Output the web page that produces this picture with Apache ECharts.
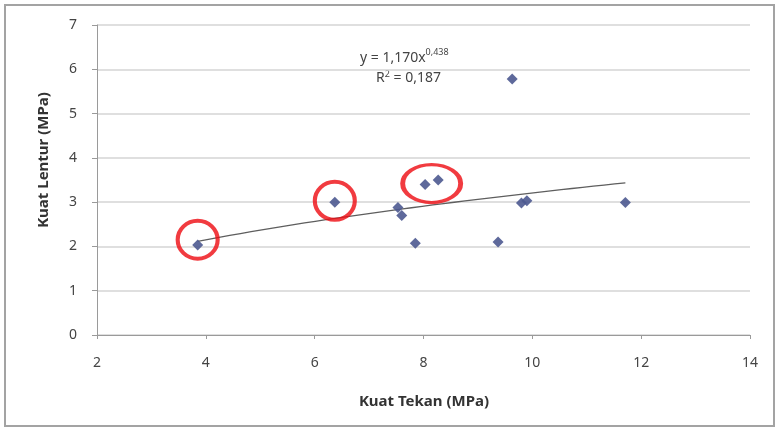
<!DOCTYPE html>
<html>
<head>
<meta charset="utf-8">
<script src="https://cdn.jsdelivr.net/npm/echarts@6/dist/echarts.min.js"></script>
<style>
  html, body { margin: 0; padding: 0; background: #fff; }
  #chart { width: 779px; height: 432px; }
</style>
</head>
<body>
<div id="chart"></div>
<script>
// Kuat tekan (x) vs kuat lentur (y), MPa
var kuatTekan  = [3.85, 6.37, 7.53, 7.60, 7.85, 8.03, 8.27, 9.37, 9.80, 9.90, 11.71, 9.63];
var kuatLentur = [2.03, 3.00, 2.88, 2.70, 2.07, 3.40, 3.50, 2.10, 2.98, 3.03, 2.99, 5.78];

// Power trendline y = a * x^b and its R²
var trendA = 1.170;
var trendB = 0.438;
var trendR2 = 0.187;
var trendLabelA = '1,170';
var trendLabelB = '0,438';
var trendLabelR2 = '0,187';

// Highlighted points (centre x, centre y) and ring sizes
var ringX = [3.85, 6.37, 8.15];
var ringY = [2.15, 3.03, 3.42];
var ringW = [40, 40, 58];
var ringH = [38, 38, 38];

var xTicks = [2, 4, 6, 8, 10, 12, 14];
var yTicks = [0, 1, 2, 3, 4, 5, 6, 7];

var points = kuatTekan.map(function (x, i) { return [x, kuatLentur[i]]; });

// Sample the fitted curve across the data range
var xMin = Math.min.apply(null, kuatTekan);
var xMax = Math.max.apply(null, kuatTekan);
var trendPts = [];
var steps = 40;
for (var i = 0; i <= steps; i++) {
  var xv = xMin + (xMax - xMin) * i / steps;
  trendPts.push([xv, trendA * Math.pow(xv, trendB)]);
}

var rings = ringX.map(function (x, i) {
  return { value: [x, ringY[i]], symbolSize: [ringW[i], ringH[i]] };
});

var FONT = '"Noto Sans", "Liberation Sans", sans-serif';

var chart = echarts.init(document.getElementById('chart'), null, { renderer: 'canvas' });
chart.setOption({
  animation: false,
  backgroundColor: '#ffffff',
  grid: { left: 97, right: 29, top: 25, bottom: 97 },
  xAxis: {
    type: 'value',
    min: xTicks[0], max: xTicks[xTicks.length - 1], interval: 2,
    axisLine: { show: true, onZero: false, lineStyle: { color: '#9a9a9a', width: 1 } },
    axisTick: { show: true, length: 4, lineStyle: { color: '#9a9a9a' } },
    axisLabel: { color: '#444', fontFamily: FONT, fontSize: 14, margin: 21 },
    splitLine: { show: false }
  },
  yAxis: {
    type: 'value',
    min: yTicks[0], max: yTicks[yTicks.length - 1], interval: 1,
    axisLine: { show: true, lineStyle: { color: '#9a9a9a', width: 1 } },
    axisTick: { show: true, length: 5, lineStyle: { color: '#9a9a9a' } },
    axisLabel: { color: '#444', fontFamily: FONT, fontSize: 14, margin: 20 },
    splitLine: { show: true, lineStyle: { color: '#d4d4d4', width: 1.5 } }
  },
  series: [
    {
      type: 'line',
      data: trendPts,
      showSymbol: false,
      smooth: false,
      lineStyle: { color: '#5e5e5e', width: 1.3 },
      z: 2
    },
    {
      type: 'scatter',
      data: points,
      symbol: 'diamond',
      symbolSize: 11,
      itemStyle: { color: '#4d5990', opacity: 0.9 },
      z: 3
    },
    {
      type: 'scatter',
      data: rings,
      symbol: 'circle',
      itemStyle: { color: 'rgba(0,0,0,0)', borderColor: '#ee0a10', borderWidth: 4 },
      z: 4,
      silent: true
    }
  ],
  graphic: [
    {
      type: 'rect', silent: true, z: -1,
      shape: { x: 5, y: 5, width: 769, height: 421 },
      style: { fill: 'none', stroke: '#a3a3a3', lineWidth: 2 }
    },
    {
      type: 'text', silent: true,
      x: 424, y: 402,
      style: {
        text: 'Kuat Tekan (MPa)', font: 'bold 15px ' + FONT, fill: '#333',
        align: 'center', verticalAlign: 'middle'
      }
    },
    {
      type: 'text', silent: true,
      x: 44, y: 160, rotation: Math.PI / 2,
      style: {
        text: 'Kuat Lentur (MPa)', font: 'bold 15px ' + FONT, fill: '#333',
        align: 'center', verticalAlign: 'middle'
      }
    },
    {
      type: 'text', silent: true,
      x: 360, y: 48,
      style: {
        text: '{b|y = ' + trendLabelA + 'x}{s|' + trendLabelB + '}',
        rich: {
          b: { font: '14px ' + FONT, fill: '#444', verticalAlign: 'bottom' },
          s: { font: '9px ' + FONT, fill: '#444', verticalAlign: 'top', padding: [0, 0, 8, 0] }
        }
      }
    },
    {
      type: 'text', silent: true,
      x: 376, y: 70,
      style: {
        text: '{b|R}{s|2}{b| = ' + trendLabelR2 + '}',
        rich: {
          b: { font: '14px ' + FONT, fill: '#444' },
          s: { font: '9px ' + FONT, fill: '#444', padding: [0, 0, 8, 0] }
        }
      }
    }
  ]
});
</script>
</body>
</html>
